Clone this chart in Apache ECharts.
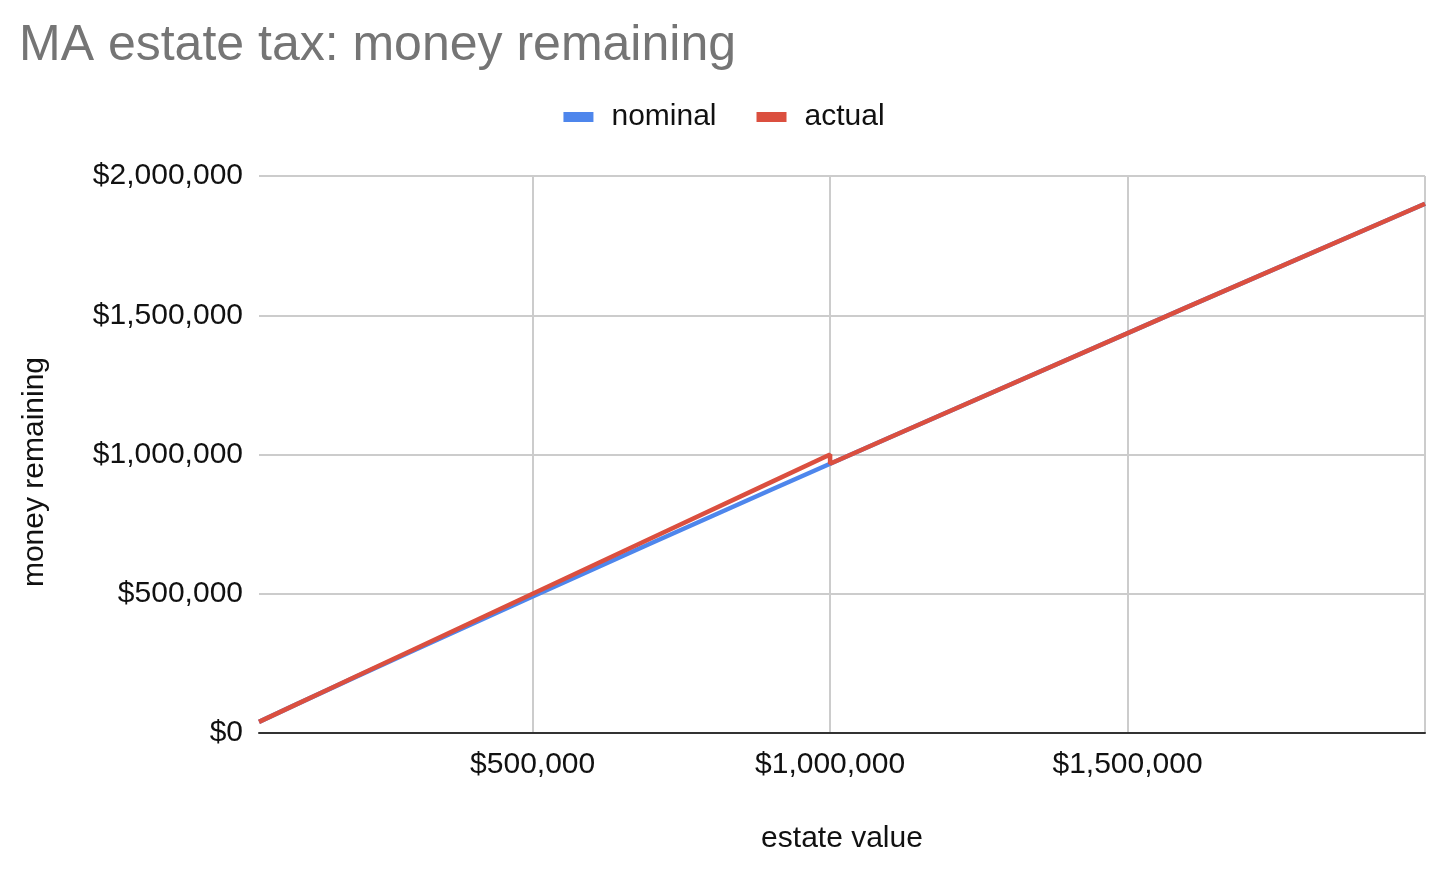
<!DOCTYPE html>
<html>
<head>
<meta charset="utf-8">
<script src="https://cdn.jsdelivr.net/npm/echarts@6/dist/echarts.min.js"></script>
<style>html,body{margin:0;padding:0;background:#fff;}#c{width:1448px;height:874px;}</style>
</head>
<body>
<div id="c"></div>
<script>
const titleText = 'MA estate tax: money remaining';
const seriesNames = ['nominal', 'actual'];
const xTickLabels = [500000, 1000000, 1500000];
const xGridValues = [500000, 1000000, 1500000, 2000000];
const nominalX = [40000, 100000, 150000, 200000, 300000, 500000, 700000, 900000, 1000000, 1100000, 1600000, 2000000];
const nominalY = [40000, 100000, 149600, 198800, 296400, 490000, 682000, 872400, 966800, 1061200, 1529200, 1900400];
const actualX = [40000, 100000, 150000, 200000, 300000, 500000, 700000, 900000, 1000000, 1000000, 1100000, 1600000, 2000000];
const actualY = [40000, 100000, 150000, 200000, 300000, 500000, 700000, 900000, 1000000, 966800, 1061200, 1529200, 1900400];

const FONT = '"Liberation Sans", Arial, sans-serif';
const money = v => '$' + Math.round(v).toLocaleString('en-US');

const chart = echarts.init(document.getElementById('c'), null, {renderer: 'canvas'});
chart.setOption({
  animation: false,
  backgroundColor: '#fff',
  textStyle: {fontFamily: FONT},
  title: {
    text: titleText, left: 14, top: 16,
    textStyle: {fontFamily: FONT, fontSize: 50, fontWeight: 'normal', color: '#757575'}
  },
  legend: {
    data: seriesNames, left: 'center', top: 97,
    itemWidth: 30, itemHeight: 10, itemGap: 40, icon: 'rect',
    textStyle: {fontFamily: FONT, fontSize: 30, color: '#111', padding: [0, 0, 0, 13]}
  },
  grid: {left: 259, right: 23, top: 176, bottom: 141, containLabel: false, outerBoundsMode: 'none'},
  xAxis: {
    type: 'value', min: 40000, max: 2000000,
    name: 'estate value', nameLocation: 'middle', nameGap: 91,
    nameTextStyle: {fontFamily: FONT, fontSize: 30, color: '#111'},
    axisLine: {show: true, onZero: false, lineStyle: {color: '#333', width: 2}},
    axisTick: {show: false, customValues: xGridValues},
    axisLabel: {customValues: xTickLabels, formatter: money, fontFamily: FONT, fontSize: 30, color: '#111', margin: 17},
    splitLine: {show: true, lineStyle: {color: '#cccccc', width: 2}}
  },
  yAxis: {
    type: 'value', min: 0, max: 2000000, interval: 500000,
    axisLine: {show: false}, axisTick: {show: false},
    axisLabel: {formatter: money, fontFamily: FONT, fontSize: 30, color: '#111', margin: 16, padding: [2, 0, 0, 0]},
    splitLine: {show: true, lineStyle: {color: '#cccccc', width: 2}}
  },
  graphic: [{
    type: 'text', x: 35, y: 472, rotation: Math.PI / 2,
    style: {text: 'money remaining', font: '30px ' + FONT, fill: '#111', align: 'center', verticalAlign: 'middle'}
  }],
  series: [
    {
      name: seriesNames[0], type: 'line', symbol: 'none', z: 2,
      data: nominalX.map((x, i) => [x, nominalY[i]]),
      itemStyle: {color: '#4e86ec'},
      lineStyle: {color: '#4e86ec', width: 4.5}
    },
    {
      name: seriesNames[1], type: 'line', symbol: 'none', z: 3,
      data: actualX.map((x, i) => [x, actualY[i]]),
      itemStyle: {color: '#db4f3f'},
      lineStyle: {color: '#db4f3f', width: 4.5}
    }
  ]
});
</script>
</body>
</html>
